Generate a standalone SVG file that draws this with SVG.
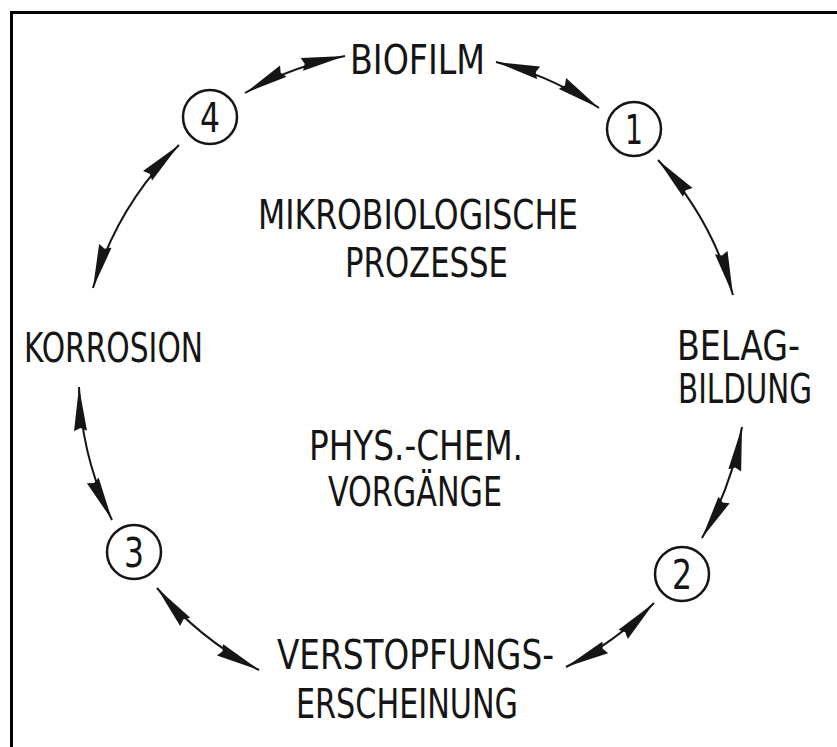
<svg xmlns="http://www.w3.org/2000/svg" width="837" height="747" viewBox="0 0 837 747">
  <style>
    .t { font-family: "Liberation Sans Narrow", "DejaVu Sans Condensed", "Liberation Sans", sans-serif; font-size: 40px; fill: #151515; }
    .e { text-anchor: end; }
    .d { font-family: "Liberation Sans Narrow", "DejaVu Sans Condensed", "Liberation Sans", sans-serif; font-size: 40px; fill: #151515; text-anchor: middle; }
    .c { fill: none; stroke: #151515; stroke-width: 2.5; }
    .a { fill: none; stroke: #151515; stroke-width: 2; marker-start: url(#ah); marker-end: url(#ah); }
  </style>
  <defs>
    <marker id="ah" viewBox="0 0 44 14" refX="44" refY="7" markerWidth="44" markerHeight="14" markerUnits="userSpaceOnUse" orient="auto-start-reverse">
      <path d="M0,0.5 L44,7 L0,13.5 L3,7 z" fill="#151515"/>
    </marker>
  </defs>
  <rect x="0" y="0" width="837" height="747" fill="#ffffff"/>
  <g id="frame">
    <path d="M11.5,747 V12.5 H837" fill="none" stroke="#000" stroke-width="3"/>
  </g>

  <g id="biofilm"><text class="t" x="350" y="74" textLength="135" lengthAdjust="spacingAndGlyphs">BIOFILM</text></g>
  <g id="mikro">
    <text class="t" x="258" y="229" textLength="320" lengthAdjust="spacingAndGlyphs">MIKROBIOLOGISCHE</text>
    <text class="t" x="345" y="277" textLength="163" lengthAdjust="spacingAndGlyphs">PROZESSE</text>
  </g>
  <g id="korrosion"><text class="t" x="24" y="362" textLength="179" lengthAdjust="spacingAndGlyphs">KORROSION</text></g>
  <g id="belag">
    <text class="t e" x="800" y="360" textLength="123" lengthAdjust="spacingAndGlyphs">BELAG-</text>
    <text class="t e" x="812" y="403" textLength="134" lengthAdjust="spacingAndGlyphs">BILDUNG</text>
  </g>
  <g id="phys">
    <text class="t" x="309" y="460" textLength="214" lengthAdjust="spacingAndGlyphs">PHYS.-CHEM.</text>
    <text class="t" x="328" y="506" textLength="174" lengthAdjust="spacingAndGlyphs">VORGÄNGE</text>
  </g>
  <g id="verstopfung">
    <text class="t" x="277" y="669" textLength="277" lengthAdjust="spacingAndGlyphs">VERSTOPFUNGS-</text>
    <text class="t" x="296" y="718" textLength="222" lengthAdjust="spacingAndGlyphs">ERSCHEINUNG</text>
  </g>

  <g id="n1"><circle class="c" cx="634" cy="129" r="27"/><text class="d" x="634" y="144" textLength="18" lengthAdjust="spacingAndGlyphs">1</text></g>
  <g id="n2"><circle class="c" cx="682" cy="574" r="27"/><text class="d" x="682" y="589" textLength="20" lengthAdjust="spacingAndGlyphs">2</text></g>
  <g id="n3"><circle class="c" cx="134" cy="552" r="27"/><text class="d" x="134" y="567" textLength="20" lengthAdjust="spacingAndGlyphs">3</text></g>
  <g id="n4"><circle class="c" cx="210" cy="117" r="27"/><text class="d" x="210" y="132" textLength="20" lengthAdjust="spacingAndGlyphs">4</text></g>

  <g id="connectors">
    <path class="a" d="M245,93 A330,330 0 0 1 345,56"/>
    <path class="a" d="M496,62 A330,330 0 0 1 599,108"/>
    <path class="a" d="M658,160 A330,330 0 0 1 733,295"/>
    <path class="a" d="M742,427 A330,330 0 0 1 702,538"/>
    <path class="a" d="M654,603 A330,330 0 0 1 566,667"/>
    <path class="a" d="M259,670 A330,330 0 0 1 157,588"/>
    <path class="a" d="M112,520 A330,330 0 0 1 79,387"/>
    <path class="a" d="M93,288 A330,330 0 0 1 179,145"/>
  </g>
</svg>
